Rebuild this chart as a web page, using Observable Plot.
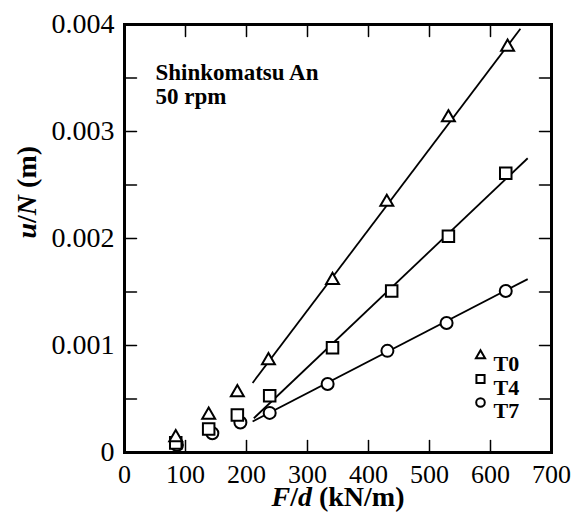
<!DOCTYPE html>
<html>
<head>
<meta charset="utf-8">
<script src="https://cdn.jsdelivr.net/npm/d3@7"></script>
<script src="https://cdn.jsdelivr.net/npm/@observablehq/plot@0.6"></script>
<style>
  html, body { margin: 0; padding: 0; background: #fff; }
  #chart { width: 574px; height: 522px; }
  #chart svg, #chart svg text, #chart svg tspan { font-family: "Liberation Serif", "Times New Roman", Times, serif !important; }
</style>
</head>
<body>
<div id="chart"></div>
<script>
// ---- data ----
const seriesNames = ["T0", "T4", "T7"];
const seriesSymbols = ["triangle", "square", "circle"];
const t0X = [84, 138, 185, 236, 341, 430, 531, 628];
const t0Y = [0.00014, 0.00035, 0.00056, 0.00086, 0.00161, 0.00234, 0.00313, 0.00379];
const t4X = [84, 138, 185, 238, 341, 438, 531, 625];
const t4Y = [0.00009, 0.00022, 0.00035, 0.00053, 0.00098, 0.00151, 0.00202, 0.00261];
const t7X = [86, 144, 190, 238, 333, 431, 528, 625];
const t7Y = [0.00007, 0.00018, 0.00028, 0.00037, 0.00064, 0.00095, 0.00121, 0.00151];
// fitted lines: start and end points
const fitX1 = [210, 212, 210];
const fitY1 = [0.00065, 0.00032, 0.00029];
const fitX2 = [649, 661, 661];
const fitY2 = [0.00396, 0.00275, 0.00162];
const xTicks = [0, 100, 200, 300, 400, 500, 600, 700];
const xTickLabels = ["0", "100", "200", "300", "400", "500", "600", "700"];
const yTicks = [0, 0.001, 0.002, 0.003, 0.004];
const yTickLabels = ["0", "0.001", "0.002", "0.003", "0.004"];
const xInnerTicks = [100, 200, 300, 400, 500, 600];
const yInnerTicks = [0.0005, 0.001, 0.0015, 0.002, 0.0025, 0.003, 0.0035];
const annotationLines = ["Shinkomatsu An", "50 rpm"];
const xTitle = "F/d (kN/m)";
const yTitle = "u/N (m)";

// ---- build table ----
const xs = [t0X, t4X, t7X], ys = [t0Y, t4Y, t7Y];
const points = [];
seriesNames.forEach((s, i) => xs[i].forEach((x, j) => points.push({series: s, symbol: seriesSymbols[i], x, y: ys[i][j]})));
const fits = seriesNames.map((s, i) => ({series: s, x1: fitX1[i], y1: fitY1[i], x2: fitX2[i], y2: fitY2[i]}));

const serif = "Liberation Serif";
const tickShape = {draw(context, l) { context.moveTo(0, 0); context.lineTo(0, -l); }};
const markerR = {triangle: 4.8, square: 6.5, circle: 6};
const legendR = {triangle: 3.4, square: 4.6, circle: 4.3};

const marks = [
  Plot.link(fits, {x1: "x1", y1: "y1", x2: "x2", y2: "y2", stroke: "black", strokeWidth: 1.8}),
];
// draw T7, T4, T0 so triangles end on top
[2, 1, 0].forEach(i => {
  marks.push(Plot.dot(points.filter(d => d.series === seriesNames[i]), {
    x: "x", y: "y", symbol: () => seriesSymbols[i], r: markerR[seriesSymbols[i]],
    stroke: "black", strokeWidth: 2, fill: "white"
  }));
});
marks.push(
  Plot.frame({stroke: "black", strokeWidth: 3}),
  // inward ticks
  Plot.vector(yInnerTicks, {x: 0, y: d => d, rotate: 90, length: 12, anchor: "start", shape: tickShape, stroke: "black", strokeWidth: 1.5}),
  Plot.vector(yInnerTicks, {x: 700, y: d => d, rotate: -90, length: 12, anchor: "start", shape: tickShape, stroke: "black", strokeWidth: 1.5}),
  Plot.vector(xInnerTicks, {x: d => d, y: 0, rotate: 0, length: 12, anchor: "start", shape: tickShape, stroke: "black", strokeWidth: 1.5}),
  Plot.vector(xInnerTicks, {x: d => d, y: 0.004, rotate: 180, length: 12, anchor: "start", shape: tickShape, stroke: "black", strokeWidth: 1.5}),
  // tick labels
  Plot.axisX(xTicks, {anchor: "bottom", tickSize: 0, tickPadding: 12, tickFormat: (d, i) => xTickLabels[i], fontSize: 26, fontFamily: serif, fill: "black"}),
  Plot.axisY(yTicks, {anchor: "left", tickSize: 0, tickPadding: 10, tickFormat: (d, i) => yTickLabels[i], fontSize: 28, fontFamily: serif, fill: "black"}),
  // axis titles
  Plot.text([xTitle], {text: d => d, frameAnchor: "bottom", dy: 53, fontSize: 28, fontWeight: "bold", fontFamily: serif, fill: "black"}),
  Plot.text([yTitle], {text: d => d, frameAnchor: "left", dx: -97, rotate: -90, fontSize: 28, fontWeight: "bold", fontFamily: serif, fill: "black"}),
  // annotation
  Plot.text([annotationLines.join("\n")], {text: d => d, frameAnchor: "top-left", dx: 31, dy: 39, lineAnchor: "top", textAnchor: "start", lineHeight: 1.02, fontSize: 23, fontWeight: "bold", fontFamily: serif, fill: "black"})
);
// legend
seriesNames.forEach((s, i) => {
  marks.push(
    Plot.dot([s], {frameAnchor: "top-left", dx: 356, dy: 331 + i * 23.5, symbol: () => seriesSymbols[i], r: legendR[seriesSymbols[i]], stroke: "black", strokeWidth: 2, fill: "white"}),
    Plot.text([s], {text: d => d, frameAnchor: "top-left", dx: 369, dy: 331 + i * 23.5, textAnchor: "start", fontSize: 22, fontWeight: "bold", fontFamily: serif, fill: "black"})
  );
});

const chart = Plot.plot({
  width: 574,
  height: 522,
  marginLeft: 124,
  marginTop: 24,
  marginRight: 23,
  marginBottom: 70,
  x: {domain: [0, 700], axis: null},
  y: {domain: [0, 0.004], axis: null},
  style: {background: "white", color: "black"},
  marks
});

// italicize variable letters in axis titles
function styleTitle(svg, full, parts) {
  svg.querySelectorAll("text").forEach(t => {
    if (t.textContent === full) {
      t.textContent = "";
      parts.forEach(([str, italic]) => {
        const ts = document.createElementNS("http://www.w3.org/2000/svg", "tspan");
        ts.textContent = str;
        if (italic) ts.setAttribute("font-style", "italic");
        t.appendChild(ts);
      });
    }
  });
}
styleTitle(chart, xTitle, [["F", true], ["/", false], ["d", true], [" (kN/m)", false]]);
styleTitle(chart, yTitle, [["u", true], ["/", false], ["N", true], [" (m)", false]]);

document.getElementById("chart").appendChild(chart);
</script>
</body>
</html>
